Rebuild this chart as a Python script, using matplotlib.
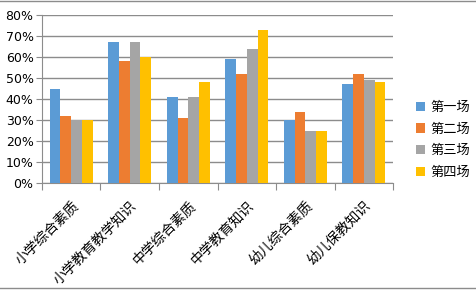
import numpy as np
import matplotlib
matplotlib.use('Agg')
import matplotlib.pyplot as plt
from matplotlib.lines import Line2D

plt.rcParams['font.family'] = ['Noto Sans CJK SC', 'DejaVu Sans']

categories = ['小学综合素质', '小学教育教学知识', '中学综合素质', '中学教育知识', '幼儿综合素质', '幼儿保教知识']
series_names = ['第一场', '第二场', '第三场', '第四场']
round1 = [45, 67, 41, 59, 30, 47]
round2 = [32, 58, 31, 52, 34, 52]
round3 = [30, 67, 41, 64, 25, 49]
round4 = [30, 60, 48, 73, 25, 48]
colors = ['#5B9BD5', '#ED7D31', '#A5A5A5', '#FFC000']

fig = plt.figure(figsize=(4.76, 2.90), dpi=100)
ax = fig.add_axes([0.088, 0.369, 0.738, 0.579])

x = np.arange(len(categories))
bw = 0.183
for i, (vals, name) in enumerate(zip([round1, round2, round3, round4], series_names)):
    ax.bar(x + (i - 1.5) * bw, vals, width=bw, color=colors[i], label=name, zorder=3)

ax.set_xlim(-0.5, len(categories) - 0.5)
ax.set_ylim(0, 80)
ax.set_yticks(range(0, 81, 10))
ax.set_yticklabels([f'{v}%' for v in range(0, 81, 10)], fontsize=9, family='DejaVu Sans')
ax.yaxis.grid(True, color='#8c8c8c', linewidth=1, zorder=0)
ax.tick_params(axis='y', length=4, color='#8c8c8c', pad=2)

# category labels drawn as rotated text, ticks sit between groups
ax.set_xticks(np.arange(-0.5, len(categories), 1.0))
ax.set_xticklabels([])
ax.tick_params(axis='x', length=5, color='#8c8c8c')
for xi, lab in zip(x, categories):
    ax.text(xi + 0.0, -7.5, lab, rotation=45, ha='right', va='top',
            rotation_mode='anchor', fontsize=10, transform=ax.transData)

for side in ['top', 'right']:
    ax.spines[side].set_visible(False)
for side in ['left', 'bottom']:
    ax.spines[side].set_color('#8c8c8c')

ax.legend(loc='center left', bbox_to_anchor=(1.03, 0.256), frameon=False,
          fontsize=9.5, handlelength=0.7, handleheight=0.7, labelspacing=0.65,
          handletextpad=0.4)

fig.add_artist(Line2D([0, 1], [0.998, 0.998], color='#8c8c8c', linewidth=1))
fig.add_artist(Line2D([0, 1], [0.008, 0.008], color='#8c8c8c', linewidth=1))

fig.savefig('out.png', dpi=100)
